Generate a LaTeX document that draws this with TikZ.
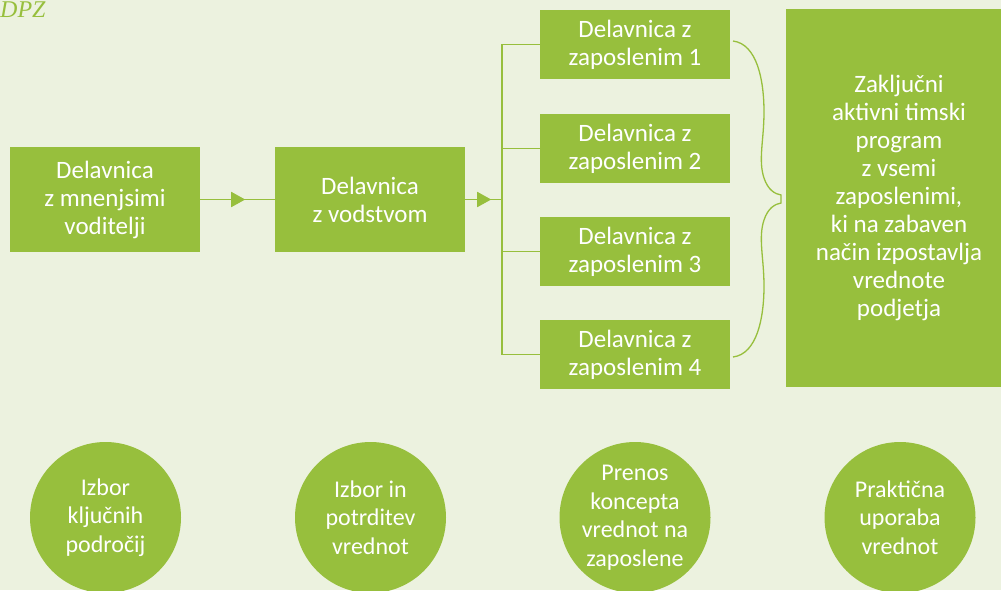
\documentclass[tikz,border=0pt]{standalone}
\usepackage{fontspec}
\setmainfont{Carlito}
\newfontfamily\logofont{Liberation Serif}
\usetikzlibrary{arrows.meta,decorations.markings}
\definecolor{leaf}{HTML}{97BF3D}
\definecolor{paper}{HTML}{ECF2DF}
\begin{document}
\begin{tikzpicture}[x=1pt,y=-1pt,
  block/.style={fill=leaf, text=white, align=center, inner sep=0pt,
    minimum width=190pt, font=\fontsize{25}{28}\selectfont},
  tallblock/.style={block, minimum height=105pt},
  smallblock/.style={block, minimum height=69pt},
  stage/.style={circle, fill=leaf, text=white, align=center, inner sep=0pt,
    minimum size=151pt, font=\fontsize{24}{28.5}\selectfont},
  wire/.style={draw=leaf, line width=1.8pt},
  midarrow/.style={postaction={decorate}, decoration={markings,
    mark=at position #1 with {\arrow{Triangle[length=14pt,width=15pt]}}}}
]
\clip (0,0) rectangle (1001,590);
\fill[paper] (0,0) rectangle (1001,590);

% logo in the corner
\node[anchor=base west, inner sep=0pt, text=leaf,
  font=\logofont\itshape\fontsize{24}{24}\selectfont] (logo) at (0,17) {DPZ};

% workshop chain
\node[tallblock] (lead) at (105,199.5) {Delavnica\\z mnenjsimi\\voditelji};
\node[tallblock] (mgmt) at (370,199.5) {Delavnica\\z vodstvom};
\node[smallblock] (w1) at (635,44.5) {Delavnica z\\zaposlenim 1};
\node[smallblock] (w2) at (635,148.5) {Delavnica z\\zaposlenim 2};
\node[smallblock] (w3) at (635,251.5) {Delavnica z\\zaposlenim 3};
\node[smallblock] (w4) at (635,354.5) {Delavnica z\\zaposlenim 4};
\node[block, minimum width=226pt, minimum height=378pt] (final) at (899,198)
  {Zaključni\\aktivni timski\\program\\z vsemi\\zaposlenimi,\\ki na zabaven\\način izpostavlja\\vrednote\\podjetja};

% connectors
\draw[wire, midarrow=45pt] (lead) -- (mgmt);
\coordinate (fork) at (502,199.5);
\draw[wire, midarrow=26pt] (mgmt) -- (fork);
\draw[wire] (w1.west) -| (fork);
\draw[wire] (w2.west) -| (fork);
\draw[wire] (w3.west) -| (fork);
\draw[wire] (w4.west) -| (fork);

% brace gathering the four workshops
\coordinate (braceTop) at (733,41);
\coordinate (braceBot) at (733,357);
\draw[draw=leaf, line width=1.3pt] (braceTop)
  .. controls (757,44) and (764,80) .. (764,112)
  .. controls (764,140) and (758,160) .. (764,178)
  .. controls (768,190) and (775,194) .. (781,195) -- (781,203)
  .. controls (775,204) and (768,208) .. (764,220)
  .. controls (758,238) and (764,258) .. (764,286)
  .. controls (764,318) and (757,354) .. (braceBot);

% stages
\node[stage] (c1) at (105.5,517.5) {Izbor\\ključnih\\področij};
\node[stage] (c2) at (370.5,517.5) {Izbor in\\potrditev\\vrednot};
\node[stage] (c3) at (635,517.5) {Prenos\\koncepta\\vrednot na\\zaposlene};
\node[stage] (c4) at (900,517.5) {Praktična\\uporaba\\vrednot};
\end{tikzpicture}
\end{document}
